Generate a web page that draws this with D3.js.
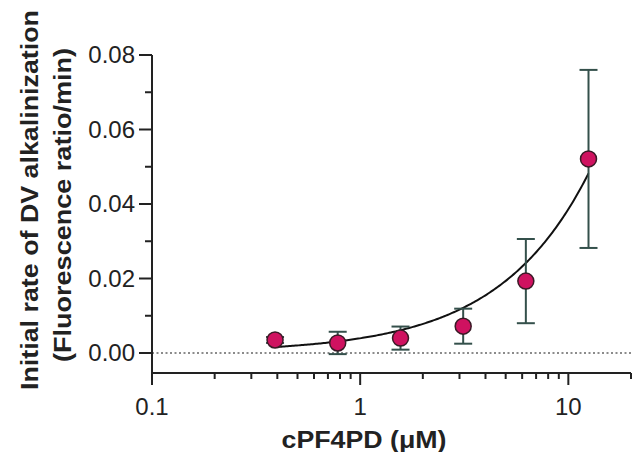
<!DOCTYPE html>
<html>
<head>
<meta charset="utf-8">
<script src="https://cdn.jsdelivr.net/npm/d3@7"></script>
<style>
  html, body { margin: 0; padding: 0; background: #fff; }
  svg { display: block; }
  text { font-family: "Liberation Sans", Arial, Helvetica, sans-serif; fill: #222; }
</style>
</head>
<body>
<svg id="chart" width="639" height="452"></svg>
<script>
// cPF4PD concentrations (µM), two-fold dilution series
const concentrations = [0.39, 0.78, 1.5625, 3.125, 6.25, 12.5];
// mean initial rate of DV alkalinization (fluorescence ratio/min)
const rates = [0.0035, 0.0027, 0.0040, 0.0072, 0.0193, 0.0521];
// standard deviation of each mean
const errors = [0.0008, 0.0030, 0.0031, 0.0047, 0.0113, 0.0239];
// straight-line fit (rate = intercept + slope * concentration)
const fitIntercept = 0.0001;
const fitSlope = 0.00385;
// axis ticks
const yMajorTicks = [0, 0.02, 0.04, 0.06, 0.08];
const yMinorTicks = [0.01, 0.03, 0.05, 0.07];
const xMajorTicks = [0.1, 1, 10];
const xMinorTicks = [0.2, 0.3, 0.4, 0.5, 0.6, 0.7, 0.8, 0.9, 2, 3, 4, 5, 6, 7, 8, 9, 20];
const xTickLabels = ["0.1", "1", "10"];

const svg = d3.select("#chart");
const axisColor = "#222";

const x = d3.scaleLog().domain([0.1, 20]).range([152, 631]);
const y = d3.scaleLinear().domain([0, 0.08]).range([353, 55]);
const yBottom = 373;

// zero reference line
svg.append("line")
  .attr("x1", x(0.1)).attr("x2", x(20))
  .attr("y1", y(0)).attr("y2", y(0))
  .attr("stroke", "#666").attr("stroke-width", 1.4)
  .attr("stroke-dasharray", "2,2.5");

// y axis
const yAxis = svg.append("g").attr("transform", `translate(${x(0.1)},0)`);
yAxis.append("line")
  .attr("y1", y(0.08)).attr("y2", yBottom)
  .attr("stroke", axisColor).attr("stroke-width", 2);
yAxis.selectAll(".ymaj").data(yMajorTicks).join("line")
  .attr("x1", -13).attr("x2", 0)
  .attr("y1", d => y(d)).attr("y2", d => y(d))
  .attr("stroke", axisColor).attr("stroke-width", 2);
yAxis.selectAll(".ymin").data(yMinorTicks).join("line")
  .attr("x1", -7).attr("x2", 0)
  .attr("y1", d => y(d)).attr("y2", d => y(d))
  .attr("stroke", axisColor).attr("stroke-width", 2);
yAxis.selectAll(".ylab").data(yMajorTicks).join("text")
  .attr("x", -17).attr("y", d => y(d))
  .attr("dy", "0.35em")
  .attr("text-anchor", "end")
  .attr("font-size", 24)
  .text(d => d3.format(".2f")(d));

// x axis
const xAxis = svg.append("g").attr("transform", `translate(0,${yBottom})`);
xAxis.append("line")
  .attr("x1", x(0.1)).attr("x2", x(20))
  .attr("stroke", axisColor).attr("stroke-width", 2);
xAxis.selectAll(".xmaj").data(xMajorTicks).join("line")
  .attr("x1", d => x(d)).attr("x2", d => x(d))
  .attr("y1", 0).attr("y2", 12)
  .attr("stroke", axisColor).attr("stroke-width", 2);
xAxis.selectAll(".xmin").data(xMinorTicks).join("line")
  .attr("x1", d => x(d)).attr("x2", d => x(d))
  .attr("y1", 0).attr("y2", 6)
  .attr("stroke", axisColor).attr("stroke-width", 2);
xAxis.selectAll(".xlab").data(xMajorTicks).join("text")
  .attr("x", d => x(d)).attr("y", 42)
  .attr("text-anchor", "middle")
  .attr("font-size", 24)
  .text((d, i) => xTickLabels[i]);

// axis titles
svg.append("text")
  .attr("x", 364).attr("y", 448)
  .attr("text-anchor", "middle")
  .attr("font-size", 24).attr("font-weight", "bold")
  .attr("textLength", 165).attr("lengthAdjust", "spacingAndGlyphs")
  .text("cPF4PD (\u03BCM)");

svg.append("text")
  .attr("transform", "translate(38,200) rotate(-90)")
  .attr("text-anchor", "middle")
  .attr("font-size", 23).attr("font-weight", "bold")
  .attr("textLength", 380).attr("lengthAdjust", "spacingAndGlyphs")
  .text("Initial rate of DV alkalinization");

svg.append("text")
  .attr("transform", "translate(71,205) rotate(-90)")
  .attr("text-anchor", "middle")
  .attr("font-size", 23).attr("font-weight", "bold")
  .attr("textLength", 314).attr("lengthAdjust", "spacingAndGlyphs")
  .text("(Fluorescence ratio/min)");

// fitted line, drawn over the concentration range
const fitXs = d3.range(0, 201).map(i => Math.exp(Math.log(concentrations[0]) + i / 200 * (Math.log(concentrations[concentrations.length - 1]) - Math.log(concentrations[0]))));
svg.append("path")
  .datum(fitXs)
  .attr("fill", "none").attr("stroke", "#111").attr("stroke-width", 2)
  .attr("d", d3.line().x(d => x(d)).y(d => y(fitIntercept + fitSlope * d)));

// error bars
const data = concentrations.map((c, i) => ({ c, v: rates[i], e: errors[i] }));
const errColor = "#34504b";
const bars = svg.append("g");
bars.selectAll(".stem").data(data).join("line")
  .attr("x1", d => x(d.c)).attr("x2", d => x(d.c))
  .attr("y1", d => y(d.v + d.e)).attr("y2", d => y(d.v - d.e))
  .attr("stroke", errColor).attr("stroke-width", 2);
bars.selectAll(".capTop").data(data).join("line")
  .attr("x1", d => x(d.c) - 9).attr("x2", d => x(d.c) + 9)
  .attr("y1", d => y(d.v + d.e)).attr("y2", d => y(d.v + d.e))
  .attr("stroke", errColor).attr("stroke-width", 2);
bars.selectAll(".capBot").data(data).join("line")
  .attr("x1", d => x(d.c) - 9).attr("x2", d => x(d.c) + 9)
  .attr("y1", d => y(d.v - d.e)).attr("y2", d => y(d.v - d.e))
  .attr("stroke", errColor).attr("stroke-width", 2);

// mean points
svg.append("g").selectAll("circle").data(data).join("circle")
  .attr("cx", d => x(d.c)).attr("cy", d => y(d.v))
  .attr("r", 8)
  .attr("fill", "#cf1260")
  .attr("stroke", "#3a1a26").attr("stroke-width", 1.5);
</script>
</body>
</html>
